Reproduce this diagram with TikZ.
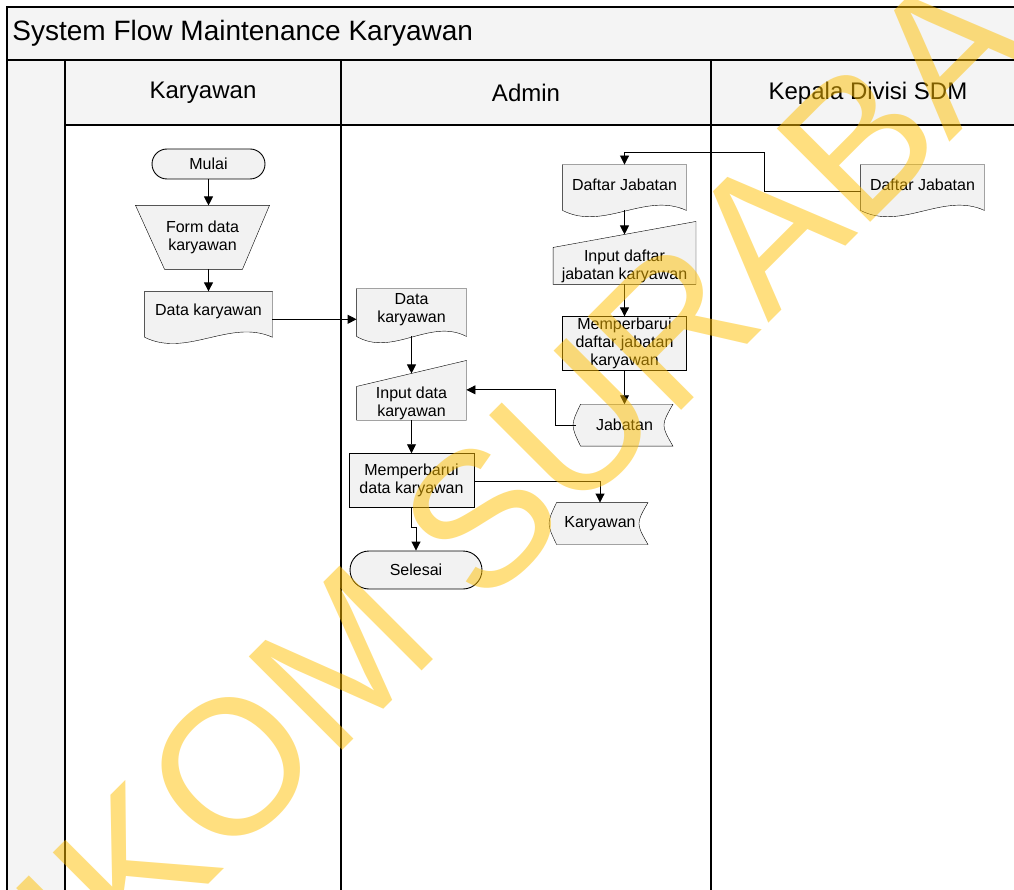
\documentclass[tikz,border=0pt]{standalone}
\usepackage{fontspec}
\setmainfont{Liberation Sans}
\usetikzlibrary{positioning,shapes.misc,arrows.meta,backgrounds,calc}

\definecolor{poolgray}{HTML}{F4F4F4}
\definecolor{boxgray}{HTML}{F2F2F2}
\definecolor{wmyellow}{RGB}{255,191,0}

\newcommand{\FlowGap}{33pt}
\newcommand{\SlantRise}{26pt}

% outlines drawn behind the named nodes
\newcommand{\DrawDoc}[1]{%
  \filldraw[fill=boxgray] (#1.north west) -- (#1.north east) -- ([yshift=-6pt]#1.south east)
    .. controls ($(#1.south west)!0.67!(#1.south east)+(0pt,13pt)$) and ($(#1.south west)!0.33!(#1.south east)+(0pt,-27pt)$)
    .. ([yshift=-6pt]#1.south west) -- cycle;}
\newcommand{\DrawInput}[1]{%
  \filldraw[fill=boxgray] (#1.south west) -- (#1.north west) -- ([yshift=\SlantRise]#1.north east) -- (#1.south east) -- cycle;}
\newcommand{\DrawStore}[1]{%
  \filldraw[fill=boxgray] ([xshift=5pt]#1.north west) -- ([xshift=-0.5pt]#1.north east)
    .. controls ([xshift=-12.5pt]#1.east) .. ([xshift=-0.5pt]#1.south east)
    -- ([xshift=5pt]#1.south west)
    .. controls ([xshift=-5pt]#1.west) .. ([xshift=5pt]#1.north west) -- cycle;}
\newcommand{\DrawManual}[1]{%
  \filldraw[fill=boxgray] (#1.north west) -- (#1.north east) -- ([xshift=-27pt]#1.south east) -- ([xshift=29pt]#1.south west) -- cycle;}

\tikzset{
  boxtext/.style={font=\fontsize{16}{18}\selectfont, align=center, inner sep=0pt},
  terminal/.style={boxtext, rounded rectangle, draw, fill=boxgray},
  process/.style={boxtext, rectangle, draw, fill=boxgray},
  docbox/.style={boxtext},
  inputbox/.style={boxtext},
  storebox/.style={boxtext},
  manualop/.style={boxtext},
  flow/.style={draw, -{Triangle[length=9pt,width=9pt]}},
  lane/.style={draw, line width=1.2pt},
  pooltitle/.style={font=\fontsize{28}{32}\selectfont, anchor=west, inner sep=0pt},
  lanehead/.style={font=\fontsize{24}{28}\selectfont, inner sep=0pt},
  watermark/.style={rotate=45, inner sep=0pt, font=\fontsize{192}{192}\selectfont, text=wmyellow, text opacity=0.5}
}

\begin{document}
\begin{tikzpicture}[x=1pt, y=-1pt, line width=0.9pt]
	\path[use as bounding box, clip] (0,0) rectangle (1014,890);
	% pool and lanes
	\begin{scope}[on background layer]
		\fill[poolgray] (7,7) rectangle (1014,60);
		\fill[poolgray] (7,60) rectangle (65,890);
		\fill[poolgray] (65,60) rectangle (1014,125);
		\draw[lane] (7,890) -- (7,7) -- (1014,7);
		\draw[lane] (7,60) -- (1014,60);
		\draw[lane] (65,890) -- (65,60);
		\draw[lane] (65,125) -- (1014,125);
		\draw[lane] (341,60) -- (341,890);
		\draw[lane] (711,60) -- (711,890);
	\end{scope}
	\node[pooltitle] (title) at (12,33) {System Flow Maintenance Karyawan};
	\node[lanehead] (headkar) at (203,93) {Karyawan};
	\node[lanehead] (headadm) at (526,93) {Admin};
	\node[lanehead] (headkep) at (868,93) {Kepala Divisi SDM};

	% Karyawan
	\node[terminal, minimum width=113pt, minimum height=30pt] (mulai) at (208.5,164) {Mulai};
	\node[manualop, minimum width=133pt, minimum height=63pt, below=26pt of mulai, xshift=-6pt] (formkar) {Form data\\karyawan};
	\node[docbox, minimum width=127pt, minimum height=39pt, below=22pt of formkar, xshift=6pt] (datakar) {Data karyawan};

	% Admin
	\node[docbox, minimum width=109pt, minimum height=41pt] (datakaradm) at (411.5,309.5) {Data\\karyawan};
	\node[inputbox, minimum width=109pt, minimum height=31pt, below=56pt of datakaradm] (inputkar) {Input data\\karyawan};
	\node[process, minimum width=125pt, minimum height=54pt, below=\FlowGap of inputkar] (updkar) {Memperbarui\\data karyawan};
	\node[terminal, minimum width=132pt, minimum height=38pt] (selesai) at (416,570) {Selesai};
	\node[storebox, minimum width=96pt, minimum height=41pt] (storekar) at (600,523.5) {Karyawan};

	\node[docbox, minimum width=123pt, minimum height=39pt] (jabadm) at (624.5,184.5) {Daftar Jabatan};
	\node[inputbox, minimum width=142pt, minimum height=36pt, below=43pt of jabadm] (inputjab) {Input daftar\\jabatan karyawan};
	\node[process, minimum width=124pt, minimum height=54pt, below=32pt of inputjab] (updjab) {Memperbarui\\daftar jabatan\\karyawan};
	\node[storebox, minimum width=97pt, minimum height=41pt, below=\FlowGap of updjab] (storejab) {Jabatan};

	% Kepala Divisi SDM
	\node[docbox, minimum width=123pt, minimum height=39pt] (jabkep) at (922.5,184.5) {Daftar Jabatan};
	\coordinate (jabjog) at (764,152);

	\begin{scope}[on background layer]
		\DrawManual{formkar}
		\DrawDoc{datakar}
		\DrawDoc{datakaradm}
		\DrawDoc{jabadm}
		\DrawDoc{jabkep}
		\DrawInput{inputkar}
		\DrawInput{inputjab}
		\DrawStore{storekar}
		\DrawStore{storejab}
	\end{scope}

	\draw[flow] (mulai.south) -- (mulai.south |- formkar.north);
	\draw[flow] (datakar.north |- formkar.south) -- (datakar.north);
	\draw[flow] ([yshift=-8pt]datakar.east) coordinate (dkout) -- (dkout -| datakaradm.west);
	\draw[flow] ([yshift=-6pt]datakaradm.south) -- ([yshift=13pt]inputkar.north);
	\draw[flow] (inputkar.south) -- (updkar.north);
	\draw[flow] (updkar.south) -- ++(0,19) -| (selesai.north);
	\draw[flow] ([yshift=-1pt]updkar.east) -| (storekar.north);
	\draw[flow] (storejab.west) -- ++(-20,0) |- ([yshift=13.5pt]inputkar.east);
	\draw[flow] ([yshift=-7pt]jabkep.west) -| (jabjog) -| (jabadm.north);
	\draw[flow] ([yshift=-6pt]jabadm.south) -- ([yshift=13pt]inputjab.north);
	\draw[flow] (inputjab.south) -- (updjab.north);
	\draw[flow] (updjab.south) -- (storejab.north);

	\node[watermark] (wm) at (516,483) {STIKOM SURABAYA};
\end{tikzpicture}
\end{document}
